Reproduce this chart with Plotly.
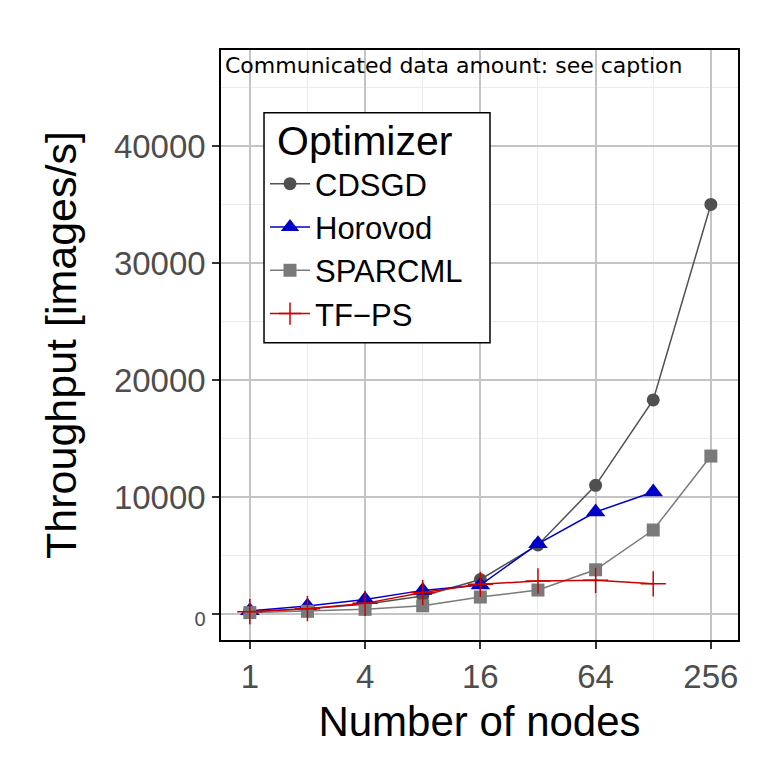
import plotly.graph_objects as go

nodes = [1, 2, 4, 8, 16, 32, 64, 128, 256]
cdsgd = [200, 460, 830, 1540, 2950, 5900, 11000, 18300, 35000]
horovod_nodes = [1, 2, 4, 8, 16, 32, 64, 128]
horovod = [280, 680, 1250, 2020, 2480, 6000, 8720, 10430]
sparcml = [120, 230, 400, 700, 1450, 2050, 3780, 7180, 13500]
tfps_nodes = [1, 2, 4, 8, 16, 32, 64, 128]
tfps = [200, 460, 910, 1830, 2540, 2830, 2880, 2580]

xticks = [1, 4, 16, 64, 256]
yticks = [0, 10000, 20000, 30000, 40000]
yticklabels = ['<span style="font-size:20px">0</span>', '10000', '20000', '30000', '40000']

fig = go.Figure()
fig.add_trace(go.Scatter(x=nodes, y=cdsgd, name='CDSGD', mode='lines+markers',
                         line=dict(color='#505050', width=1.5),
                         marker=dict(symbol='circle', size=13, color='#505050')))
fig.add_trace(go.Scatter(x=horovod_nodes, y=horovod, name='Horovod', mode='lines+markers',
                         line=dict(color='#0000C8', width=1.5),
                         marker=dict(symbol='triangle-up', size=17, color='#0000C8')))
fig.add_trace(go.Scatter(x=nodes, y=sparcml, name='SPARCML', mode='lines+markers',
                         line=dict(color='#7A7A7A', width=1.5),
                         marker=dict(symbol='square', size=13, color='#7A7A7A')))
fig.add_trace(go.Scatter(x=tfps_nodes, y=tfps, name='TF\u2212PS', mode='lines+markers',
                         line=dict(color='#CC0000', width=1.5),
                         marker=dict(symbol='cross-thin', size=18,
                                     line=dict(color='#CC0000', width=1.5), color='#CC0000')))

fig.update_layout(
    width=782, height=782,
    margin=dict(l=221, r=44, t=50, b=142),
    paper_bgcolor='white', plot_bgcolor='white',
    font=dict(family='Liberation Sans, Arial, sans-serif', color='black'),
    showlegend=True,
    legend=dict(
        x=0.0851, y=0.8186, xanchor='left', yanchor='top',
        bgcolor='rgba(0,0,0,0)', borderwidth=0,
        font=dict(size=31, color='black'),
        itemwidth=40, tracegroupgap=0,
    ),
    shapes=[dict(type='rect', xref='paper', yref='paper',
                 x0=0.0832, x1=0.5203, y0=0.5039, y1=0.8937,
                 line=dict(color='black', width=1.5), fillcolor='white', layer='above')],
    xaxis=dict(
        type='log', range=[-0.1505, 2.55],
        tickvals=xticks, ticktext=[str(v) for v in xticks],
        tickfont=dict(size=33, color='#4D4D4D'),
        ticks='outside', ticklen=7, tickwidth=1.5, tickcolor='#333333',
        showgrid=True, gridcolor='#C4C4C4', gridwidth=1.5,
        minor=dict(tickvals=[2, 8, 32, 128], showgrid=True, gridcolor='#EBEBEB', gridwidth=1, ticks=''),
        showline=True, linecolor='black', linewidth=1.5, mirror=True,
        zeroline=False,
        title=dict(text='Number of nodes', font=dict(size=42, color='black'), standoff=12),
    ),
    yaxis=dict(
        range=[-2220, 48200],
        tickvals=yticks, ticktext=yticklabels,
        tickfont=dict(size=33, color='#4D4D4D'),
        ticks='outside', ticklen=7, tickwidth=1.5, tickcolor='#333333',
        showgrid=True, gridcolor='#C4C4C4', gridwidth=1.5,
        minor=dict(tickvals=[5000, 15000, 25000, 35000, 45000], showgrid=True, gridcolor='#EBEBEB', gridwidth=1, ticks=''),
        showline=True, linecolor='black', linewidth=1.5, mirror=True,
        zeroline=False,
        title=dict(text='Throughput [images/s]', font=dict(size=43, color='black'), standoff=24),
    ),
    annotations=[
        dict(text='Communicated data amount: see caption', xref='paper', yref='paper',
             x=0, y=1, xanchor='left', yanchor='top', xshift=2, yshift=-1, showarrow=False,
             font=dict(family='DejaVu Sans, Verdana, sans-serif', size=22, color='black')),
        dict(text='Optimizer', xref='paper', yref='paper',
             x=0.1083, y=0.8458, xanchor='left', yanchor='middle', xshift=-2, showarrow=False,
             font=dict(size=41, color='black')),
    ],
)

fig.write_html('out.html')
